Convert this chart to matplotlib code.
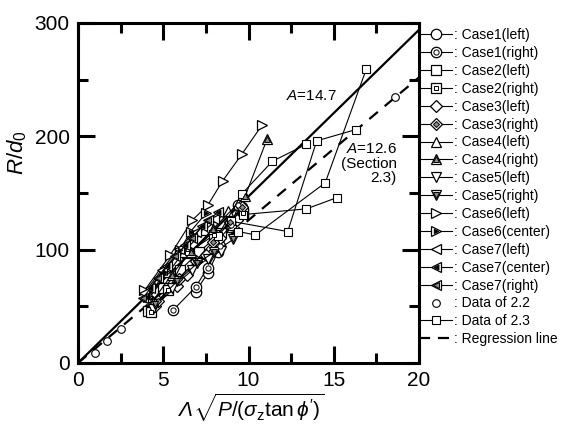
import matplotlib
matplotlib.use("Agg")
import matplotlib.pyplot as plt
from matplotlib.lines import Line2D
from matplotlib.legend_handler import HandlerTuple
import numpy as np

plt.rcParams['font.family'] = ['Liberation Sans', 'DejaVu Sans']
plt.rcParams['mathtext.fontset'] = 'custom'
plt.rcParams['mathtext.rm'] = 'Liberation Sans'
plt.rcParams['mathtext.it'] = 'Liberation Sans:italic'
plt.rcParams['mathtext.bf'] = 'Liberation Sans:bold'

# ---- data: x = Lambda*sqrt(P/(sigma_z tan phi')), y = R/d0 ----
case1_left_x = [6.9, 7.6, 8.2, 8.9, 9.6]
case1_left_y = [63, 79, 98, 120, 138]
case1_right_x = [5.6, 6.9, 7.6, 8.3, 9.0, 9.4]
case1_right_y = [47, 67, 84, 103, 122, 139]
case2_left_x = [4.1, 5.0, 6.0, 7.1, 8.4, 9.7]
case2_left_y = [46, 66, 82, 98, 115, 133]
case2_right_x = [4.3, 5.3, 6.4, 8.0, 9.7]
case2_right_y = [45, 64, 97, 113, 132]
case3_left_x = [4.5, 5.8, 6.4, 7.5, 8.3, 9.3]
case3_left_y = [50, 68, 78, 95, 110, 126]
case3_right_x = [4.7, 5.9, 6.9, 7.9, 8.9, 9.6]
case3_right_y = [55, 74, 90, 107, 124, 138]
case4_left_x = [4.2, 5.3, 6.2, 7.4, 8.8]
case4_left_y = [58, 80, 98, 117, 134]
case4_right_x = [4.4, 5.5, 6.6, 7.9, 9.8, 11.1]
case4_right_y = [55, 78, 98, 118, 147, 198]
case5_left_x = [4.4, 5.5, 6.7, 7.6, 8.4]
case5_left_y = [48, 66, 82, 92, 99]
case5_right_x = [4.5, 5.8, 7.0, 8.0, 9.1]
case5_right_y = [52, 72, 88, 98, 109]
case6_left_x = [3.9, 5.4, 6.7, 7.6, 8.5, 9.6, 10.8]
case6_left_y = [64, 95, 126, 139, 161, 184, 210]
case6_center_x = [4.1, 5.1, 6.0, 6.6, 7.5]
case6_center_y = [58, 80, 100, 116, 132]
case7_left_x = [3.9, 4.9, 5.9, 6.9, 8.0]
case7_left_y = [62, 82, 101, 116, 127]
case7_center_x = [4.2, 5.2, 6.3, 7.3, 8.2]
case7_center_y = [66, 86, 104, 121, 133]
case7_right_x = [3.8, 4.7, 5.7, 6.7, 7.6]
case7_right_y = [57, 75, 94, 110, 126]

data22_x = [1.0, 1.7, 2.5, 18.6]
data22_y = [9, 19, 30, 235]

data23_s1_x = [8.2, 9.6, 11.4, 13.4]
data23_s1_y = [112, 149, 178, 193]
data23_s2_x = [9.4, 10.4, 14.5, 16.9]
data23_s2_y = [116, 113, 159, 259]
data23_s3_x = [9.7, 13.4, 15.2]
data23_s3_y = [131, 136, 146]
data23_s4_x = [9.0, 12.3, 14.0, 16.3]
data23_s4_y = [125, 116, 196, 206]

slope_fit = 14.7
slope_regression = 12.6

labels = [": Case1(left)", ": Case1(right)", ": Case2(left)", ": Case2(right)",
          ": Case3(left)", ": Case3(right)", ": Case4(left)", ": Case4(right)",
          ": Case5(left)", ": Case5(right)", ": Case6(left)", ": Case6(center)",
          ": Case7(left)", ": Case7(center)", ": Case7(right)",
          ": Data of 2.2", ": Data of 2.3", ": Regression line"]

fig = plt.figure(figsize=(5.72, 4.26), dpi=100)
ax = fig.add_axes([78/572, 1-363/426, 341/572, 340/426])

LW = 0.8
MS = 7.5
GRAY = '0.55'

# (marker, inner marker, inner face colour, inner size factor)
styles = [
    ('o', None, None, 0),
    ('o', 'o', 'white', 0.5),
    ('s', None, None, 0),
    ('s', 's', 'white', 0.5),
    ('D', None, None, 0),
    ('D', 'D', GRAY, 0.55),
    ('^', None, None, 0),
    ('^', '^', GRAY, 0.55),
    ('v', None, None, 0),
    ('v', 'v', GRAY, 0.55),
    ('>', None, None, 0),
    ('>', '>', 'black', 0.4),
    ('<', None, None, 0),
    ('<', '<', 'black', 0.45),
    ('<', '<', GRAY, 0.55),
]
size_scale = {'o': 1.0, 's': 0.95, 'D': 0.75, '^': 1.05, 'v': 1.05, '>': 1.05, '<': 1.05}

series = [
    (case1_left_x, case1_left_y), (case1_right_x, case1_right_y),
    (case2_left_x, case2_left_y), (case2_right_x, case2_right_y),
    (case3_left_x, case3_left_y), (case3_right_x, case3_right_y),
    (case4_left_x, case4_left_y), (case4_right_x, case4_right_y),
    (case5_left_x, case5_left_y), (case5_right_x, case5_right_y),
    (case6_left_x, case6_left_y), (case6_center_x, case6_center_y),
    (case7_left_x, case7_left_y), (case7_center_x, case7_center_y),
    (case7_right_x, case7_right_y),
]

handles = []
for (xs, ys), (mk, imk, ifc, ifac) in zip(series, styles):
    ms = MS * size_scale[mk]
    ax.plot(xs, ys, color='black', lw=LW, marker=mk, ms=ms, mfc='white',
            mec='black', mew=0.9, zorder=3)
    outer = Line2D([], [], color='black', lw=LW, marker=mk, ms=ms,
                   mfc='white', mec='black', mew=0.9)
    if imk is not None:
        ax.plot(xs, ys, ls='none', marker=imk, ms=ms * ifac, mfc=ifc,
                mec='black', mew=0.7, zorder=3.1)
        inner = Line2D([], [], ls='none', marker=imk, ms=ms * ifac, mfc=ifc,
                       mec='black', mew=0.7)
        handles.append((outer, inner))
    else:
        handles.append(outer)

# data of 2.2 (points only)
ax.plot(data22_x, data22_y, ls='none', marker='o', ms=5.5, mfc='white',
        mec='black', mew=0.8, zorder=3)
handles.append(Line2D([], [], ls='none', marker='o', ms=5.5, mfc='white',
                      mec='black', mew=0.8))

# data of 2.3 (connected points)
for xs, ys in [(data23_s1_x, data23_s1_y), (data23_s2_x, data23_s2_y),
               (data23_s3_x, data23_s3_y), (data23_s4_x, data23_s4_y)]:
    ax.plot(xs, ys, color='black', lw=LW, marker='s', ms=5.5, mfc='white',
            mec='black', mew=0.8, zorder=3)
handles.append(Line2D([], [], color='black', lw=LW, marker='s', ms=5.5,
                      mfc='white', mec='black', mew=0.8))

# proportional lines
xl = np.array([0, 20])
ax.plot(xl, slope_fit * xl, color='black', lw=1.6, zorder=2)
ax.plot(xl, slope_regression * xl, color='black', lw=1.6, ls=(0, (5, 4)), zorder=2)
handles.append(Line2D([], [], color='black', lw=1.6, ls=(0, (5, 3.5))))

ax.text(12.2, 236, r"$\mathit{A}$=14.7", fontsize=11, ha='left', va='center')
ax.text(18.7, 195, r"$\mathit{A}$=12.6" "\n(Section\n2.3)", fontsize=11,
        ha='right', va='top', linespacing=1.05, multialignment='right')

ax.set_xlim(0, 20)
ax.set_ylim(0, 300)
ax.set_xticks([0, 5, 10, 15, 20])
ax.set_xticks([2.5, 7.5, 12.5, 17.5], minor=True)
ax.set_yticks([0, 100, 200, 300])
ax.set_yticks([50, 150, 250], minor=True)
ax.tick_params(which='both', direction='in', top=True, right=True,
               width=2.2, labelsize=15)
ax.tick_params(which='major', length=12, pad=6)
ax.tick_params(which='minor', length=7)
for sp in ax.spines.values():
    sp.set_linewidth(2.2)

# x label: italic Lambda placed just left of the radical
ax.set_xlabel(r"$\sqrt{P/(\sigma_{\rm z}\tan\phi')}$", fontsize=15)
ax.xaxis.set_label_coords(0.53, -0.085)
ax.annotate("Λ", xy=(0.0, 0.12), xycoords=ax.xaxis.label, ha='right',
            va='bottom', fontsize=15, style='italic')
ax.set_ylabel(r"$\mathit{R}/\mathit{d}_0$", fontsize=16)
ax.yaxis.set_label_coords(-0.145, 0.62)

leg = ax.legend(handles, labels, loc='upper left', bbox_to_anchor=(1.0, 0.985),
                frameon=False, fontsize=10, handlelength=2.4, handletextpad=0.15,
                labelspacing=0.28, borderaxespad=0.0, borderpad=0.0,
                handler_map={tuple: HandlerTuple(ndivide=1, pad=0)})

fig.savefig("out.png", dpi=100)
